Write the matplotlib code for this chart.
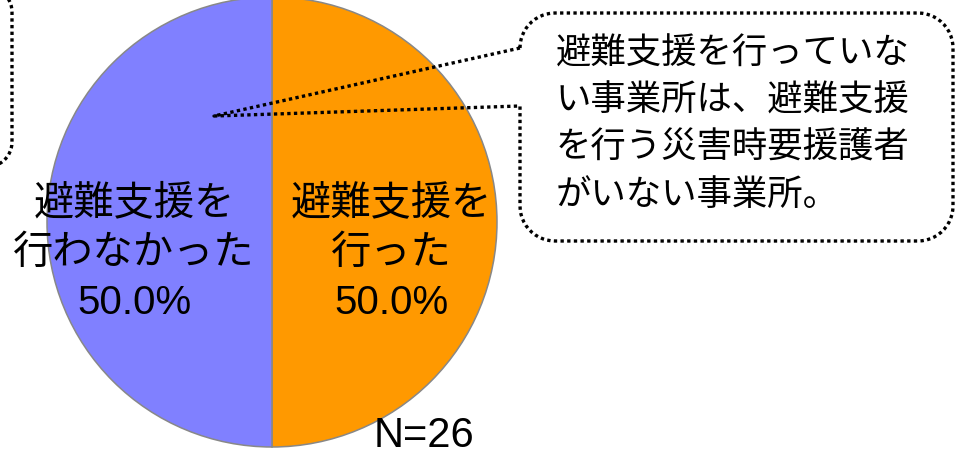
import numpy as np
import matplotlib
matplotlib.use('Agg')
import matplotlib.pyplot as plt

plt.rcParams['font.family'] = ['Liberation Sans', 'Noto Sans CJK JP']

# data
categories = ['避難支援を\n行った', '避難支援を\n行わなかった']
counts = [13, 13]
colors = ['#FF9900', '#8080FF']
note_lines = ['避難支援を行っていな', 'い事業所は、避難支援',
              'を行う災害時要援護者', 'がいない事業所。']

# layout (pixels, y from top)
W, H = 956, 469
cx, cy, rad = 272, 222, 225
lim = 1.02
label_xy = [(0.529, 0.036), (-0.613, 0.036)]   # pie data units, first baseline
label_step = 0.222

fig = plt.figure(figsize=(W / 100, H / 100), dpi=100)

# pie axes placed so that radius 1 == rad pixels
half = lim * rad
ax = fig.add_axes([(cx - half) / W, (H - cy - half) / H, 2 * half / W, 2 * half / H])
total = sum(counts)
ax.pie(counts, colors=colors, startangle=90, counterclock=False, radius=1,
       wedgeprops=dict(edgecolor='#888888', linewidth=1.1))
ax.set_xlim(-lim, lim)
ax.set_ylim(-lim, lim)
ax.set_aspect('equal')
ax.axis('off')

for i, (cat, n) in enumerate(zip(categories, counts)):
    lines = cat.split('\n') + [f'{n / total * 100:.1f}%']
    lx, ly = label_xy[i]
    for j, s in enumerate(lines):
        ax.text(lx, ly - j * label_step, s, ha='center', va='baseline', fontsize=29)

# overlay in pixel coordinates for callouts
ov = fig.add_axes([0, 0, 1, 1])
ov.set_xlim(0, W)
ov.set_ylim(H, 0)
ov.axis('off')


def callout(x0, y0, x1, y1, r, tail=None):
    def arc(ccx, ccy, a0, a1):
        t = np.radians(np.linspace(a0, a1, 14))
        return list(zip(ccx + r * np.cos(t), ccy + r * np.sin(t)))
    pts = []
    pts += arc(x0 + r, y0 + r, 180, 270)
    pts += arc(x1 - r, y0 + r, 270, 360)
    pts += arc(x1 - r, y1 - r, 0, 90)
    pts += arc(x0 + r, y1 - r, 90, 180)
    if tail is not None:
        low_y, tip, high_y = tail
        pts += [(x0, low_y), tip, (x0, high_y)]
    pts.append(pts[0])
    xs, ys = zip(*pts)
    ov.plot(xs, ys, color='black', lw=2.4, linestyle=(0, (1, 1)),
            dash_capstyle='butt', solid_joinstyle='miter')


callout(520, 13, 953, 241, 35, tail=(106, (214, 116), 48))
callout(-400, -13, 12, 167, 25)

for j, s in enumerate(note_lines):
    ov.text(556, 64 + j * 47, s, ha='left', va='baseline', fontsize=25.5)

ov.text(374, 447, f'N={total}', ha='left', va='baseline', fontsize=30)

fig.savefig('out.png', dpi=100)
